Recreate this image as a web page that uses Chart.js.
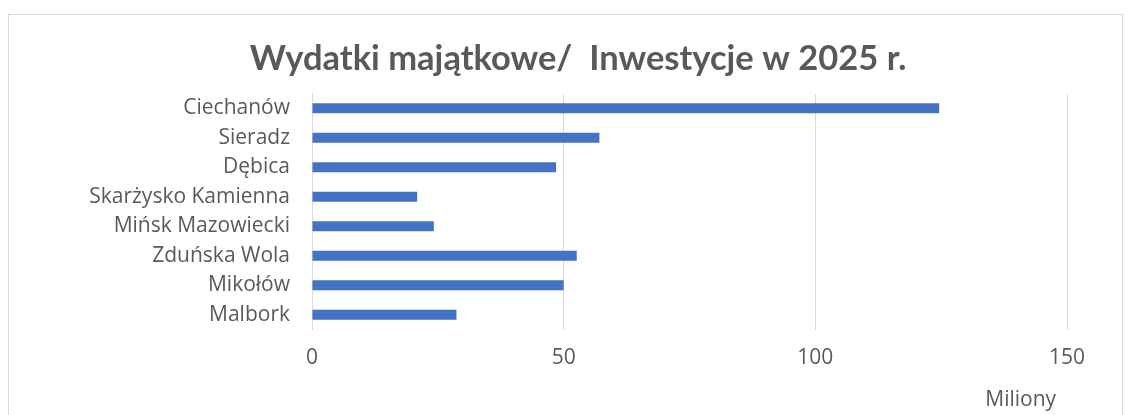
<!DOCTYPE html>
<html>
<head>
<meta charset="utf-8">
<script src="https://cdn.jsdelivr.net/npm/chart.js@4/dist/chart.umd.min.js"></script>
<style>
  html, body { margin: 0; padding: 0; background: #fff; }
  #wrap { position: relative; width: 1134px; height: 415px; }
  #frame { position: absolute; left: 8px; top: 14px; width: 1113px; height: 420px; border: 1px solid #d9d9d9; }
  canvas { position: absolute; left: 0; top: 0; }
</style>
</head>
<body>
<div id="wrap">
  <div id="frame"></div>
  <canvas id="chart" width="1134" height="415"></canvas>
</div>
<script>
const cities = ['Ciechanów', 'Sieradz', 'Dębica', 'Skarżysko Kamienna', 'Mińsk Mazowiecki', 'Zduńska Wola', 'Mikołów', 'Malbork'];
const spending = [124.6, 57.1, 48.5, 20.9, 24.2, 52.6, 50.0, 28.7];
const xTicks = [0, 50, 100, 150];

const grey = '#595959';
const labelFont = { family: '"Open Sans", sans-serif', size: 21 };

new Chart(document.getElementById('chart'), {
  type: 'bar',
  data: {
    labels: cities,
    datasets: [{
      data: spending,
      backgroundColor: '#4472c4',
      barPercentage: 0.34,
      categoryPercentage: 1
    }]
  },
  options: {
    indexAxis: 'y',
    responsive: false,
    devicePixelRatio: 1,
    animation: false,
    // left/right padding keeps the title centred where the original has it
    layout: { padding: { left: 89, right: 67, top: 0, bottom: 0 } },
    plugins: {
      legend: { display: false },
      tooltip: { enabled: false },
      title: {
        display: true,
        text: 'Wydatki majątkowe/  Inwestycje w 2025 r.',
        color: grey,
        font: { family: 'Lato, "Open Sans", sans-serif', size: 34.5, weight: 'bold' },
        padding: { top: 38, bottom: 14 }
      }
    },
    scales: {
      x: {
        min: 0,
        max: 150,
        afterBuildTicks: s => { s.ticks = xTicks.map(v => ({ value: v })); },
        grid: { color: '#d9d9d9', drawTicks: false },
        border: { display: false },
        ticks: {
          color: grey,
          padding: 16,
          font: labelFont
        },
        title: {
          display: true,
          text: 'Miliony  ',
          align: 'end',
          color: grey,
          font: labelFont,
          padding: { top: 1, bottom: 2 }
        }
      },
      y: {
        afterFit: s => { s.width = 312 - 89; },
        grid: { display: false, drawTicks: false },
        border: { color: '#d9d9d9', width: 1 },
        ticks: {
          color: grey,
          padding: 22,
          autoSkip: false,
          font: labelFont
        }
      }
    }
  }
});
</script>
</body>
</html>
